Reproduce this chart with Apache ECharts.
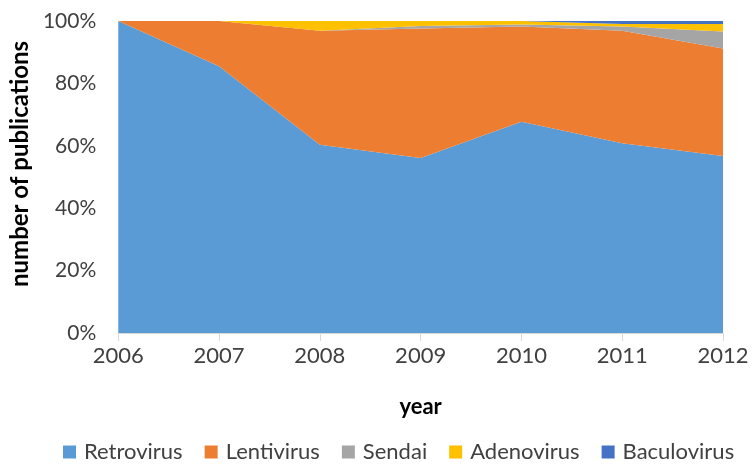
<!DOCTYPE html>
<html>
<head>
<meta charset="utf-8">
<script src="https://cdn.jsdelivr.net/npm/echarts@6/dist/echarts.min.js"></script>
<style>html,body{margin:0;padding:0;background:#fff;}#c{width:753px;height:464px;}</style>
</head>
<body>
<div id="c"></div>
<script>
const years = ['2006','2007','2008','2009','2010','2011','2012'];
const retrovirus = [100, 85.5, 60.3, 56.1, 67.7, 60.8, 56.7];
const lentivirus = [0, 14.5, 36.6, 41.5, 30.5, 36.1, 34.5];
const sendai = [0, 0, 0, 0.8, 0.7, 1.3, 5.4];
const adenovirus = [0, 0, 3.1, 1.6, 1.1, 0.8, 2.4];
const baculovirus = [0, 0, 0, 0, 0, 1.0, 1.0];
const names = ['Retrovirus','Lentivirus','Sendai','Adenovirus','Baculovirus'];
const colors = ['#5B9BD5','#ED7D31','#A5A5A5','#FFC000','#4472C4'];
const dataSets = [retrovirus, lentivirus, sendai, adenovirus, baculovirus];
const font = 'Lato, "Open Sans", sans-serif';
const chart = echarts.init(document.getElementById('c'));
chart.setOption({
  animation: false,
  color: colors,
  textStyle: {fontFamily: font},
  grid: {left: 118, right: 30, top: 21, bottom: 131},
  legend: {
    top: 436, left: 58, itemWidth: 13, itemHeight: 13, itemGap: 22,
    icon: 'rect',
    textStyle: {fontSize: 22, color: '#404040', fontFamily: font, padding: [0, 0, 0, 3]},
    data: names
  },
  xAxis: {
    type: 'category', data: years, boundaryGap: false,
    name: 'year', nameLocation: 'middle', nameGap: 63,
    nameTextStyle: {fontSize: 22, fontWeight: 'bold', color: '#000', fontFamily: font},
    axisLine: {lineStyle: {color: '#d9d9d9'}},
    axisTick: {show: true, length: 8, lineStyle: {color: '#d9d9d9'}},
    axisLabel: {fontSize: 22, color: '#404040', margin: 12, fontFamily: font}
  },
  yAxis: {
    type: 'value', min: 0, max: 100, interval: 20,
    name: 'number of publications', nameLocation: 'middle', nameGap: 79,
    nameTextStyle: {fontSize: 24, fontWeight: 'bold', color: '#000', fontFamily: font, padding: [0, 0, 0, 26]},
    axisLine: {show: false}, axisTick: {show: false}, splitLine: {show: false},
    axisLabel: {fontSize: 21, color: '#404040', margin: 22, formatter: '{value}%', fontFamily: font}
  },
  series: dataSets.map((d, i) => ({
    name: names[i], type: 'line', stack: 'total', data: d,
    symbol: 'none', lineStyle: {width: 0},
    areaStyle: {color: colors[i], opacity: 1},
    itemStyle: {color: colors[i]}
  }))
});
</script>
</body>
</html>
